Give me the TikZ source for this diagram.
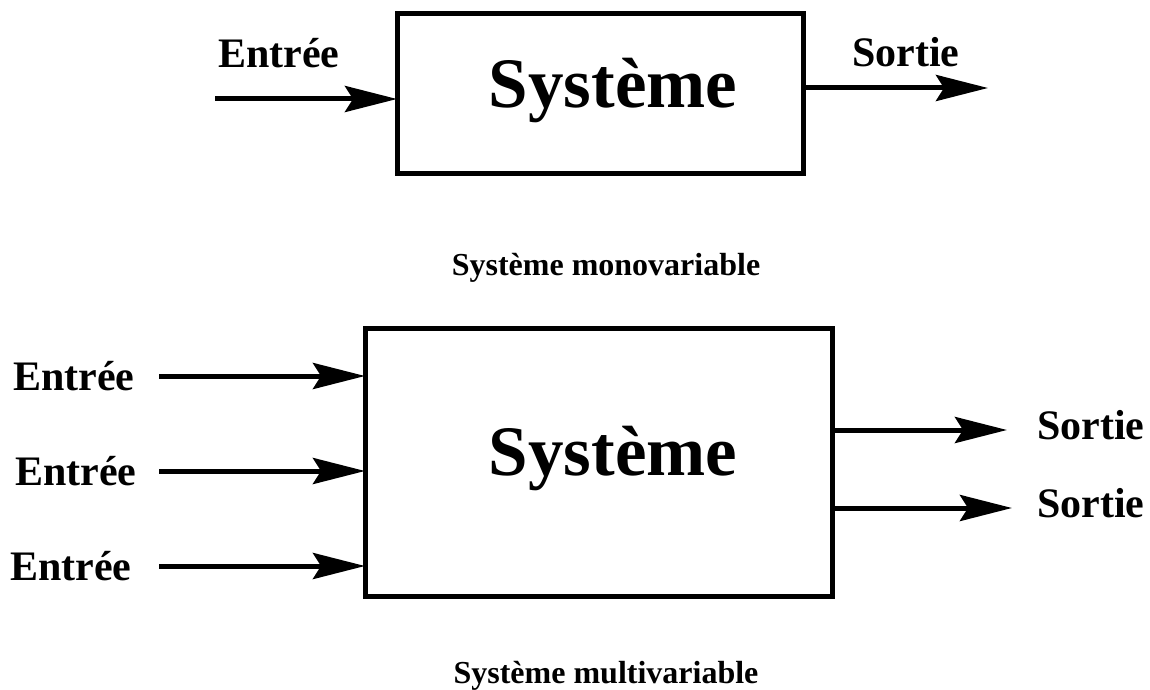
\documentclass[tikz,border=0pt]{standalone}
\usepackage{fontspec}
\setmainfont{Liberation Serif}
\usetikzlibrary{arrows.meta}
\begin{document}
\begin{tikzpicture}[x=1pt,y=-1pt,
  sysbox/.style={draw,line width=5pt,outer sep=0pt,inner sep=0pt},
  bigtext/.style={font=\fontsize{71}{80}\selectfont\bfseries,anchor=base,inner sep=0pt},
  lbl/.style={font=\fontsize{42}{48}\selectfont\bfseries,anchor=base west,inner sep=0pt},
  captext/.style={font=\fontsize{32}{38}\selectfont\bfseries,anchor=base,inner sep=0pt},
  flow/.style={line width=5pt,-{Stealth[length=52pt,width=26pt,inset=8pt]}}]
\useasboundingbox (0,0) rectangle (1150,690);
% ---- single-variable system
\node[sysbox,minimum width=406pt,minimum height=159pt] (box1) at (600,93.5) {};
\node[bigtext] (t1) at (613,107) {Système};
\coordinate (in1) at (215,99);
\coordinate (out1) at (988,88);
\draw[flow] (in1) -- (box1.west |- in1);
\draw[flow] (box1.east |- out1) -- (out1);
\node[lbl] (le1) at (218,68) {Entrée};
\node[lbl] (ls1) at (852,67) {Sortie};
\node[captext] (c1) at (606,275) {Système monovariable};
% ---- multi-variable system
\node[sysbox,minimum width=467pt,minimum height=268pt] (box2) at (598.5,462) {};
\node[bigtext] (t2) at (613,475) {Système};
\coordinate (a1) at (159,376);
\coordinate (a2) at (159,471);
\coordinate (a3) at (159,566);
\draw[flow] (a1) -- (box2.west |- a1);
\draw[flow] (a2) -- (box2.west |- a2);
\draw[flow] (a3) -- (box2.west |- a3);
\node[lbl] (le2) at (13,390) {Entrée};
\node[lbl] (le3) at (15,485) {Entrée};
\node[lbl] (le4) at (10,580) {Entrée};
\coordinate (b1) at (1007,430);
\coordinate (b2) at (1012,508);
\draw[flow] (box2.east |- b1) -- (b1);
\draw[flow] (box2.east |- b2) -- (b2);
\node[lbl] (ls2) at (1037,439) {Sortie};
\node[lbl] (ls3) at (1037,517) {Sortie};
\node[captext] (c2) at (606,683) {Système multivariable};
\end{tikzpicture}
\end{document}
